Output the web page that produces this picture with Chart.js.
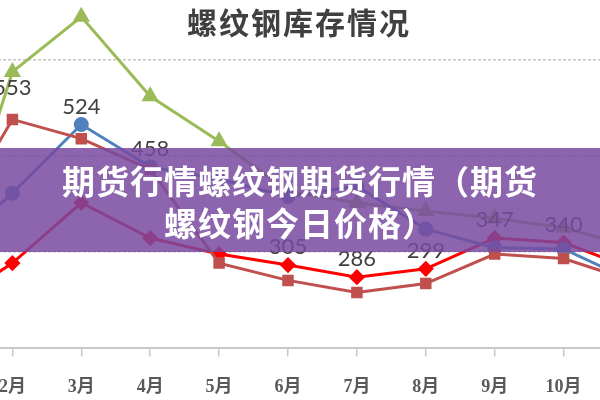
<!DOCTYPE html>
<html>
<head>
<meta charset="utf-8">
<script src="https://cdn.jsdelivr.net/npm/chart.js@4.4.0/dist/chart.umd.min.js"></script>
<style>
html, body { margin: 0; padding: 0; background: #fff; }
#wrap { position: relative; width: 600px; height: 400px; overflow: hidden; }
#chart { position: absolute; left: -90px; top: -8px; }
#banner {
    position: absolute; left: 0; top: 148px; width: 600px; height: 104px;
    box-sizing: border-box; padding-top: 11px;
    background: rgba(120, 74, 160, 0.85);
    color: #fff; font: bold 33px "Noto Sans CJK SC", sans-serif;
    letter-spacing: 1px; line-height: 42px; text-align: center;
}
</style>
</head>
<body>
<div id="wrap">
<canvas id="chart" width="760" height="428"></canvas>
<div id="banner">期货行情螺纹钢期货行情（期货<br>螺纹钢今日价格）</div>
</div>
<script>
var titleText = '螺纹钢库存情况';
var months = ['1月', '2月', '3月', '4月', '5月', '6月', '7月', '8月', '9月', '10月', '11月'];

var greenValues  = [270, 606, 692, 568, 498, 420, 402, 389, 378, 363, 333];
var blueValues   = [319, 417, 524, 458, 439, 412, 428, 361, 332, 330, 280];
var brownValues  = [350, 532, 502, 454, 308, 281, 262, 276, 322, 315, 280];
var redValues    = [237, 308, 402, 347, 322, 305, 286, 299, 347, 340, 299];

// numbers printed on the chart
var labelValues  = [null, 553, 524, 458, null, 305, 286, 299, 347, 340, null];

// horizontal gridlines
var gridValues = [325, 475, 625];

var overlay = {
    id: 'overlay',
    afterDatasetsDraw: function (chart) {
        var ctx = chart.ctx, xs = chart.scales.x, ys = chart.scales.y;
        ctx.save();
        ctx.fillStyle = '#404040';
        ctx.textAlign = 'center';
        ctx.textBaseline = 'middle';
        ctx.font = '22px Lato, "Liberation Sans", sans-serif';
        labelValues.forEach(function (v, i) {
            if (v === null) return;
            ctx.fillText(String(v), xs.getPixelForValue(i), ys.getPixelForValue(v) - 18);
        });
        ctx.font = 'bold 30px "Noto Sans CJK SC", sans-serif';
        ctx.letterSpacing = '2px';
        ctx.fillText(titleText, 389, 31);
        ctx.restore();
    }
};

function series(data, color, style, radius) {
    return {
        data: data,
        borderColor: color,
        backgroundColor: color,
        borderWidth: 3,
        pointStyle: style,
        pointRadius: radius,
        pointBorderColor: color,
        pointBackgroundColor: color,
        tension: 0
    };
}

new Chart(document.getElementById('chart').getContext('2d'), {
    type: 'line',
    data: {
        labels: months,
        datasets: [
            series(brownValues, '#c0504d', 'rect', 6),
            series(blueValues, '#4f81bd', 'circle', 6),
            series(greenValues, '#9bbb59', 'triangle', 7),
            series(redValues, '#ff0000', 'rectRot', 6)
        ]
    },
    options: {
        responsive: false,
        animation: false,
        layout: { padding: { left: 23, right: 28, top: 0, bottom: 2 } },
        plugins: {
            legend: { display: false },
            title: { display: false },
            tooltip: { enabled: false }
        },
        scales: {
            x: {
                offset: false,
                grid: { display: true, drawOnChartArea: false, drawTicks: true, tickLength: 8, color: '#c8c8c8', lineWidth: 1.5 },
                border: { display: true, color: '#c8c8c8', width: 2 },
                ticks: {
                    autoSkip: false, maxRotation: 0, padding: 20, color: '#595959',
                    font: { family: '"Liberation Serif", "Noto Sans CJK SC"', size: 18, weight: 'bold' }
                }
            },
            y: {
                min: 175,
                max: 715,
                ticks: { display: false },
                afterBuildTicks: function (scale) {
                    scale.ticks = gridValues.map(function (v) { return { value: v }; });
                },
                grid: { color: '#c4c4c4', lineWidth: 1.5, drawTicks: false },
                border: { display: false, dash: [3, 2] }
            }
        }
    },
    plugins: [overlay]
});
</script>
</body>
</html>
